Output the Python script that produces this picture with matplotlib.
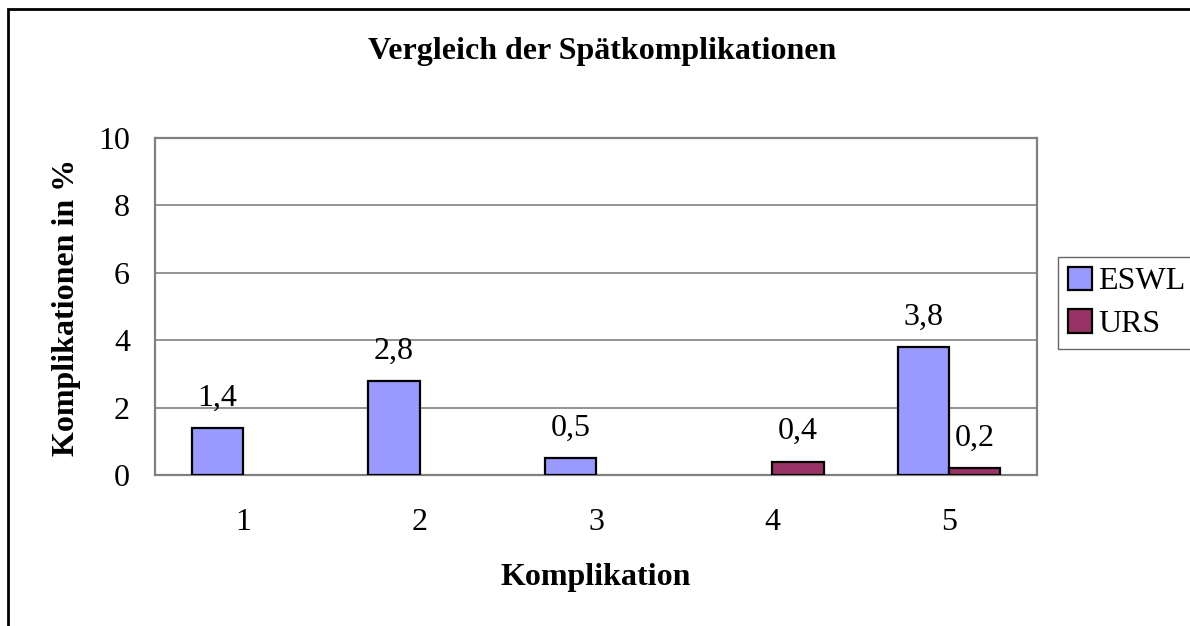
import numpy as np
import matplotlib
matplotlib.use("Agg")
import matplotlib.pyplot as plt
from matplotlib.patches import Rectangle, Patch

# data
categories = ["1", "2", "3", "4", "5"]
eswl = [1.4, 2.8, 0.5, 0.0, 3.8]
urs = [0.0, 0.0, 0.0, 0.4, 0.2]
series_names = ["ESWL", "URS"]
yticks = [0, 2, 4, 6, 8, 10]
colors = ["#9999FF", "#993366"]

plt.rcParams["font.family"] = ["Liberation Serif", "DejaVu Serif"]
FS = 23

fig = plt.figure(figsize=(11.9, 6.26), dpi=100)
ax = fig.add_axes([155 / 1190, 151 / 626, 882 / 1190, 337 / 626])

x = np.arange(len(categories))
w = 0.29
b1 = ax.bar(x - w / 2, eswl, w, color=colors[0], edgecolor="black", linewidth=1.6, zorder=3)
b2 = ax.bar(x + w / 2, urs, w, color=colors[1], edgecolor="black", linewidth=1.6, zorder=3)

# value labels, only for nonzero bars
for bars, vals in [(b1, eswl), (b2, urs)]:
    for rect, v in zip(bars, vals):
        if v == 0:
            rect.set_linewidth(0)
            continue
        ax.annotate(f"{v:.1f}".replace(".", ","),
                    (rect.get_x() + rect.get_width() / 2, v),
                    xytext=(0, 16), textcoords="offset points",
                    ha="center", va="baseline", fontsize=FS)

ax.set_xlim(-0.5, len(categories) - 0.5)
ax.set_ylim(0, 10)
ax.set_yticks(yticks)
ax.set_xticks(x)
ax.set_xticklabels(categories)
ax.tick_params(axis="both", length=0, labelsize=FS)
ax.tick_params(axis="y", pad=18)
ax.tick_params(axis="x", pad=24)
ax.yaxis.grid(True, color="#808080", linewidth=1.2, zorder=0)
for s in ax.spines.values():
    s.set_color("#808080")
    s.set_linewidth(1.6)

fig.text(602 / 1190, 1 - 52 / 626, "Vergleich der Spätkomplikationen",
         ha="center", va="center", fontsize=FS, fontweight="bold")
fig.text(596 / 1190, 1 - 578 / 626, "Komplikation",
         ha="center", va="center", fontsize=FS, fontweight="bold")
fig.text(67 / 1190, 1 - 307 / 626, "Komplikationen in %",
         ha="center", va="center", rotation=90, fontsize=FS, fontweight="bold")

handles = [Patch(facecolor=c, edgecolor="black", linewidth=1.6) for c in colors]
leg = fig.legend(handles, series_names, loc="upper left",
                 bbox_to_anchor=(1058 / 1190, 1 - 257 / 626),
                 fontsize=FS, frameon=True, fancybox=False,
                 handlelength=0.75, handleheight=0.75, handletextpad=0.2,
                 borderpad=0.3, labelspacing=0.4, borderaxespad=0)
leg.get_frame().set_edgecolor("#404040")
leg.get_frame().set_linewidth(1.0)

# outer chart border (right and bottom edges fall outside the image)
fig.patches.append(Rectangle((8 / 1190, -0.2), 1.2, 1.2 - 9 / 626,
                             transform=fig.transFigure, fill=False,
                             edgecolor="black", linewidth=2, clip_on=False))

fig.savefig("out.png", dpi=100)
